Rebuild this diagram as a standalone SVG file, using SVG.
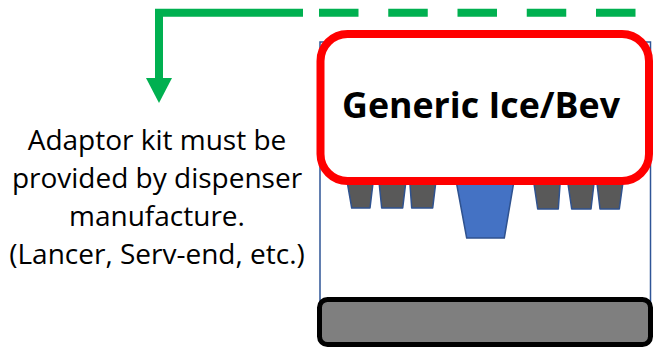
<svg xmlns="http://www.w3.org/2000/svg" width="654" height="354" viewBox="0 0 654 354">
<defs>
<style>
.trap{fill:#595959;stroke:#2F528F;stroke-width:1.5;stroke-linejoin:round}
.label{font-family:"Open Sans","Liberation Sans",sans-serif;font-size:28px;fill:#000;text-anchor:middle}
.title{font-family:"Open Sans","Liberation Sans",sans-serif;font-size:35px;font-weight:bold;fill:#000;text-anchor:middle}
.green{fill:none;stroke:#00B050;stroke-width:8}
</style>
</defs>
<rect width="654" height="354" fill="#fff"/>
<g id="dispenser">
<rect x="320" y="42" width="330.5" height="290" fill="#fff" stroke="#2F5597" stroke-width="1.5"/>
</g>
<g id="nozzles">
<polygon class="trap" points="346,175 374,175 370,208 351.7,208"/>
<polygon class="trap" points="378.3,175 406.7,175 402.7,208 381.7,208"/>
<polygon class="trap" points="409.3,175 436.7,175 432.7,208 411.7,208"/>
<polygon class="trap" points="455,175 515,175 504.3,238 466.7,238" style="fill:#4472C4"/>
<polygon class="trap" points="532.7,175 560.7,175 558.3,209 537.7,209"/>
<polygon class="trap" points="566.7,175 595,175 591,209 571.7,209"/>
<polygon class="trap" points="596,175 624,175 619.3,209 600,209"/>
</g>
<g id="base">
<rect x="319.5" y="299.5" width="331" height="45" rx="8" fill="#7F7F7F" stroke="#000" stroke-width="5"/>
</g>
<g id="title-box">
<rect x="320.5" y="34" width="328.5" height="147" rx="27" fill="#fff" stroke="#FF0000" stroke-width="8"/>
<text class="title" x="481" y="118" textLength="278" lengthAdjust="spacingAndGlyphs">Generic Ice/Bev</text>
</g>
<g id="connectors">
<polyline class="green" points="303,12.7 159,12.7 159,79"/>
<polygon points="146,78 172,78 159,103" fill="#00B050"/>
<line class="green" x1="319" y1="12.7" x2="636" y2="12.7" stroke-dasharray="39.5 29.75"/>
</g>
<g id="note">
<text class="label" x="157" y="150">Adaptor kit must be</text>
<text class="label" x="157" y="188">provided by dispenser</text>
<text class="label" x="157" y="226">manufacture.</text>
<text class="label" x="157" y="264">(Lancer, Serv-end, etc.)</text>
</g>
</svg>
